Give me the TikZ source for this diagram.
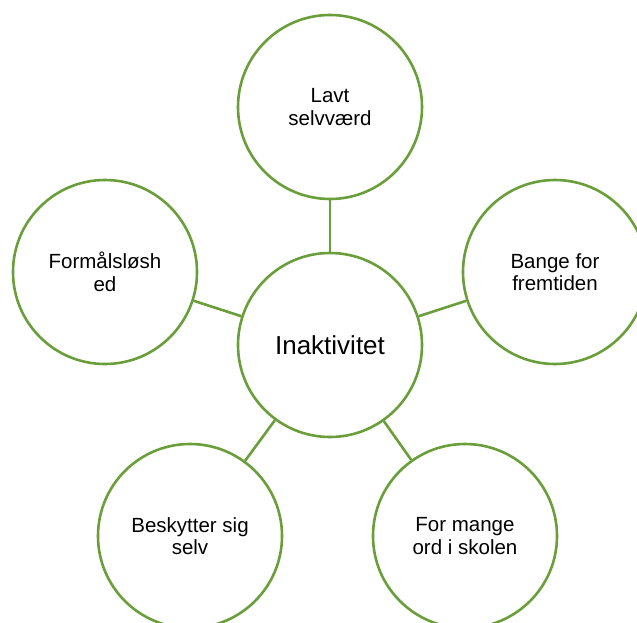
\documentclass[tikz,border=0pt]{standalone}
\usepackage{fontspec}
\setmainfont{Liberation Sans}
\definecolor{ringgreen}{RGB}{106,158,58}
\begin{document}
\begin{tikzpicture}[x=1pt,y=-1pt,
  bubble/.style={circle,draw=ringgreen,line width=2.6pt,fill=white,minimum size=184pt,inner sep=0pt,align=center,font=\fontsize{20.5}{22.5}\selectfont},
  link/.style={draw=ringgreen,line width=2.6pt}]
\useasboundingbox (0,0) rectangle (637,623);
\clip (0,0) rectangle (637,623);
\node[bubble] (c) at (330,345) {\fontsize{26}{29}\selectfont Inaktivitet};
\node[bubble] (t) at (330,107) {Lavt\\selvværd};
\node[bubble] (l) at (105,272) {Formålsløsh\\ed};
\node[bubble] (r) at (555,272) {Bange for\\fremtiden};
\node[bubble] (bl) at (190,536) {Beskytter sig\\selv};
\node[bubble] (br) at (465,536) {For mange\\ord i skolen};
\draw[link] (c) -- (t);
\draw[link] (c) -- (l);
\draw[link] (c) -- (r);
\draw[link] (c) -- (bl);
\draw[link] (c) -- (br);
\end{tikzpicture}
\end{document}
